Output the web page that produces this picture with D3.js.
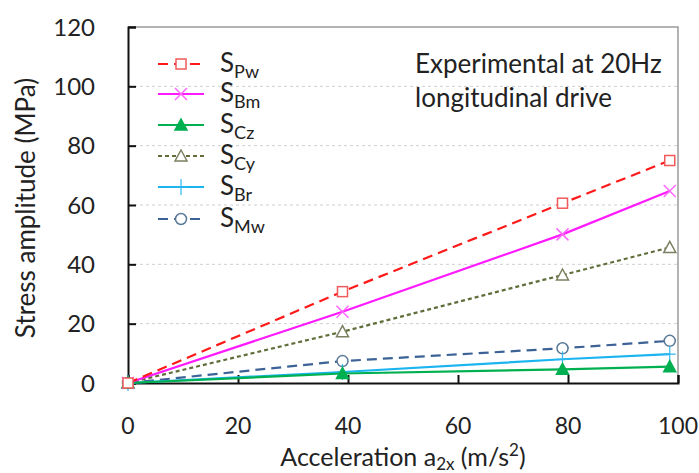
<!DOCTYPE html>
<html>
<head>
<meta charset="utf-8">
<script src="https://cdn.jsdelivr.net/npm/d3@7"></script>
<style>
  body { margin: 0; background: #fff; }
  svg text { font-family: Lato, "Open Sans", sans-serif; fill: #222; }
</style>
</head>
<body>
<div id="chart"></div>
<script>
// data
var accel = [0, 39, 79, 98.5];
var sPw = [0, 30.8, 60.6, 75.0];
var sBm = [0, 24.0, 50.1, 64.7];
var sCz = [0, 3.2, 4.6, 5.5];
var sCy = [0, 17.3, 36.4, 45.7];
var sBr = [0, 3.7, 8.0, 9.7];
var sMw = [0, 7.4, 11.7, 14.2];
var xTicks = [0, 20, 40, 60, 80, 100];
var yTicks = [0, 20, 40, 60, 80, 100, 120];

var series = [
  {sub: "Pw", values: sPw, color: "#ff1a1a", mark: "#f05a5a", dash: "10,6", symbol: "square"},
  {sub: "Bm", values: sBm, color: "#ff1aff", mark: "#ff66ff", dash: null, symbol: "x"},
  {sub: "Cz", values: sCz, color: "#00b050", mark: "#00b050", dash: null, symbol: "triFill"},
  {sub: "Cy", values: sCy, color: "#5f6e3a", mark: "#7a8060", dash: "4,3", symbol: "tri"},
  {sub: "Br", values: sBr, color: "#1ab4f0", mark: "#30b8f0", dash: null, symbol: "plus"},
  {sub: "Mw", values: sMw, color: "#3c6296", mark: "#5a7a98", dash: "10,6", symbol: "circle"}
];

var W = 699, H = 473;
var margin = {top: 27, right: 21, bottom: 90, left: 128};

var svg = d3.select("#chart")
    .append("svg")
    .attr("width", W)
    .attr("height", H);

var x = d3.scaleLinear().domain([0, 100]).range([margin.left, W - margin.right]);
var y = d3.scaleLinear().domain([0, 120]).range([H - margin.bottom, margin.top]);

// grid
svg.append("g")
  .selectAll("line")
  .data(yTicks.filter(function(d) { return d > 0 && d < 120; }))
  .enter().append("line")
    .attr("x1", x(0)).attr("x2", x(100))
    .attr("y1", function(d) { return y(d); })
    .attr("y2", function(d) { return y(d); })
    .attr("stroke", "#cfcfcf")
    .attr("stroke-width", 1)
    .attr("stroke-dasharray", "3,3");

// plot area border (top and right)
svg.append("path")
    .attr("d", "M" + x(0) + "," + y(120) + "H" + x(100) + "V" + y(0))
    .attr("fill", "none")
    .attr("stroke", "#9a9a9a")
    .attr("stroke-width", 1.5);

// axes
var yAxis = svg.append("g")
    .attr("transform", "translate(" + x(0) + ",0)")
    .call(d3.axisRight(y).tickValues(yTicks).tickSize(8).tickFormat(""));
var xAxis = svg.append("g")
    .attr("transform", "translate(0," + y(0) + ")")
    .call(d3.axisTop(x).tickValues(xTicks).tickSize(8).tickFormat(""));
[yAxis, xAxis].forEach(function(a) {
  a.select(".domain").attr("stroke", "#111").attr("stroke-width", 2);
  a.selectAll(".tick line").attr("stroke", "#111").attr("stroke-width", 2);
});

svg.append("g")
  .selectAll("text")
  .data(yTicks)
  .enter().append("text")
    .attr("x", x(0) - 33)
    .attr("y", function(d) { return y(d); })
    .attr("dy", "0.36em")
    .attr("text-anchor", "end")
    .style("font-size", "24px")
    .text(function(d) { return d; });

svg.append("g")
  .selectAll("text")
  .data(xTicks)
  .enter().append("text")
    .attr("x", function(d) { return x(d); })
    .attr("y", 434)
    .attr("text-anchor", "middle")
    .style("font-size", "23px")
    .text(function(d) { return d; });

// axis titles
var xt = svg.append("text")
    .attr("x", (x(0) + x(100)) / 2)
    .attr("y", 466)
    .attr("text-anchor", "middle")
    .style("font-size", "25px");
xt.append("tspan").text("Acceleration a");
xt.append("tspan").attr("dy", 4).style("font-size", "17px").text("2x");
xt.append("tspan").attr("dy", -4).text(" (m/s");
xt.append("tspan").attr("dy", -10).style("font-size", "17px").text("2");
xt.append("tspan").attr("dy", 10).text(")");

svg.append("text")
    .attr("transform", "translate(35," + 208 + ") rotate(-90)")
    .attr("text-anchor", "middle")
    .style("font-size", "26px")
    .text("Stress amplitude  (MPa)");

// annotation
svg.append("text").attr("x", 415).attr("y", 73).style("font-size", "26px").text("Experimental at 20Hz");
svg.append("text").attr("x", 415).attr("y", 107).style("font-size", "26px").text("longitudinal drive");

function drawMarker(g, s, px, py) {
  var m;
  if (s.symbol === "square") {
    m = g.append("rect").attr("x", px - 5).attr("y", py - 5).attr("width", 10).attr("height", 10)
      .attr("fill", "#fff").attr("stroke", s.mark).attr("stroke-width", 1.5);
  } else if (s.symbol === "x") {
    m = g.append("path").attr("d", "M" + (px - 6) + "," + (py - 6) + "L" + (px + 6) + "," + (py + 6) +
        "M" + (px - 6) + "," + (py + 6) + "L" + (px + 6) + "," + (py - 6))
      .attr("fill", "none").attr("stroke", s.mark).attr("stroke-width", 1.5);
  } else if (s.symbol === "triFill" || s.symbol === "tri") {
    m = g.append("path").attr("d", "M" + px + "," + (py - 6) + "L" + (px + 6) + "," + (py + 5) + "L" + (px - 6) + "," + (py + 5) + "Z")
      .attr("fill", s.symbol === "tri" ? "#fff" : s.mark)
      .attr("stroke", s.mark).attr("stroke-width", 1.5);
  } else if (s.symbol === "plus") {
    m = g.append("path").attr("d", "M" + px + "," + (py - 8) + "V" + (py + 8) + "M" + (px - 6) + "," + py + "H" + (px + 6))
      .attr("fill", "none").attr("stroke", s.mark).attr("stroke-width", 1.2);
  } else {
    m = g.append("circle").attr("cx", px).attr("cy", py).attr("r", 5.5)
      .attr("fill", "#fff").attr("stroke", s.mark).attr("stroke-width", 1.5);
  }
  return m;
}

var line = d3.line()
    .x(function(d) { return x(d[0]); })
    .y(function(d) { return y(d[1]); });

var plot = svg.append("g");
series.slice().reverse().forEach(function(s) {
  var pts = accel.map(function(a, i) { return [a, s.values[i]]; });
  var g = plot.append("g");
  g.append("path")
    .attr("d", line(pts))
    .attr("fill", "none")
    .attr("stroke", s.color)
    .attr("stroke-width", 2.2)
    .attr("stroke-dasharray", s.dash);
  pts.forEach(function(p) { drawMarker(g, s, x(p[0]), y(p[1])); });
});

// legend
var legend = svg.append("g");
var rowY = [64, 94, 125, 156, 187, 219];
series.forEach(function(s, i) {
  var g = legend.append("g");
  g.append("line")
    .attr("x1", 158).attr("x2", 204)
    .attr("y1", rowY[i]).attr("y2", rowY[i])
    .attr("stroke", s.color)
    .attr("stroke-width", 2.2)
    .attr("stroke-dasharray", s.dash);
  drawMarker(g, s, 181, rowY[i]);
  var t = g.append("text")
    .attr("x", 220)
    .attr("y", rowY[i] + 8)
    .style("font-size", "26px");
  t.append("tspan").text("S");
  t.append("tspan").attr("dy", 6).style("font-size", "18px").text(s.sub);
});
</script>
</body>
</html>
